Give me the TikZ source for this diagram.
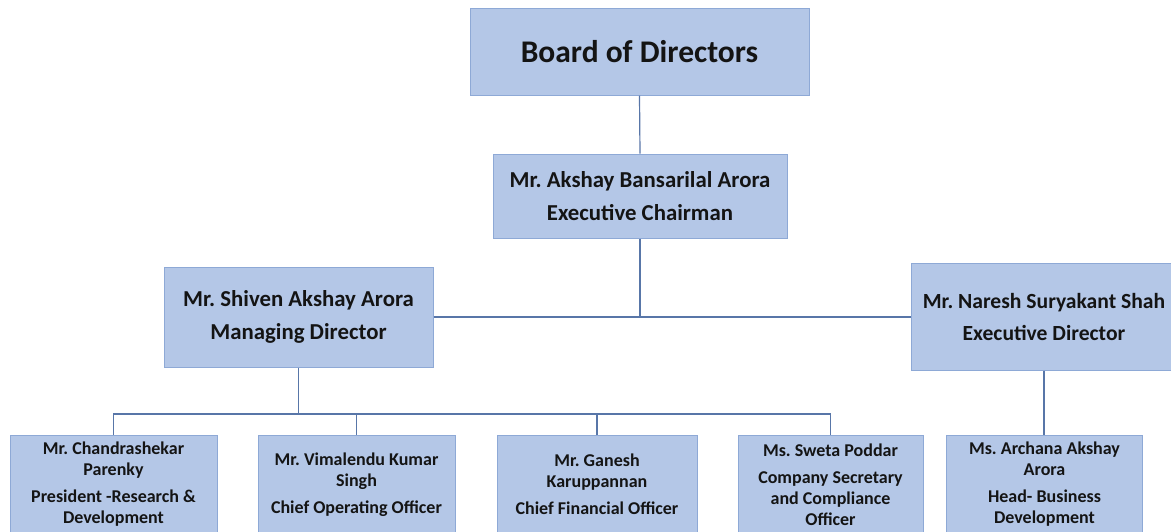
\documentclass[tikz,border=0pt]{standalone}
\usepackage{fontspec}
\setmainfont{Carlito}
\definecolor{boxfill}{HTML}{B4C7E7}
\definecolor{boxline}{HTML}{8EA9D6}
\definecolor{conn}{HTML}{5876A8}
\definecolor{txt}{HTML}{141414}
\begin{document}
\frenchspacing
\begin{tikzpicture}[x=1pt,y=-1pt,
  box/.style={draw=boxline, line width=1pt, fill=boxfill, inner sep=0pt, align=center, text=txt},
  topfont/.style={font=\frenchspacing\fontsize{22.8}{26}\selectfont\bfseries},
  lowfont/.style={font=\frenchspacing\fontsize{18}{21}\selectfont\bfseries},
  link/.style={draw=conn, line width=1.2pt}]
\clip (0,0) rectangle (1171,531);
\fill[white] (0,0) rectangle (1171,531);

\node[box, minimum width=339pt, minimum height=87pt, font=\fontsize{31.5}{36}\selectfont\bfseries] (board) at (639.5,51.5) {Board of Directors};
\node[box, topfont, minimum width=294pt, minimum height=84pt] (chair) at (640,196) {Mr. Akshay Bansarilal Arora\\[7pt]Executive Chairman};
\node[box, topfont, minimum width=269pt, minimum height=100pt] (md) at (298.5,317) {Mr. Shiven Akshay Arora\\[7pt]Managing Director};
\node[box, font=\frenchspacing\fontsize{21.6}{25}\selectfont\bfseries, minimum width=266pt, minimum height=107pt] (ed) at (1044,316.5) {Mr. Naresh Suryakant Shah\\[7pt]Executive Director};

\node[box, lowfont, minimum width=207pt, minimum height=98pt] (c1) at (113.5,484.5) {Mr. Chandrashekar\\Parenky\\[6pt]President -Research \&\\Development};
\node[box, lowfont, minimum width=197pt, minimum height=98pt] (c2) at (356.5,484.5) {Mr. Vimalendu Kumar\\Singh\\[6pt]Chief Operating Officer};
\node[box, lowfont, minimum width=200pt, minimum height=98pt] (c3) at (597,484.5) {Mr. Ganesh\\Karuppannan\\[6pt]Chief Financial Officer};
\node[box, lowfont, minimum width=185pt, minimum height=98pt] (c4) at (830.5,484.5) {Ms. Sweta Poddar\\[6pt]Company Secretary\\and Compliance\\Officer};
\node[box, lowfont, minimum width=196pt, minimum height=98pt] (c5) at (1044.5,484.5) {Ms. Archana Akshay\\Arora\\[6pt]Head- Business\\Development};

\coordinate (bus) at (0,414);
\path[link] (board.south) -- (chair.north);
\path[link] (chair.south) -- (chair.south |- md.east);
\path[link] (md.east) -- (md.east -| ed.west);
\path[link] (md.south) -- (md.south |- bus);
\path[link] (c1.north) -- (c1.north |- bus) -- (c4.north |- bus) -- (c4.north);
\path[link] (c2.north) -- (c2.north |- bus);
\path[link] (c3.north) -- (c3.north |- bus);
\path[link] (ed.south) -- (ed.south |- c5.north);
\end{tikzpicture}
\end{document}
